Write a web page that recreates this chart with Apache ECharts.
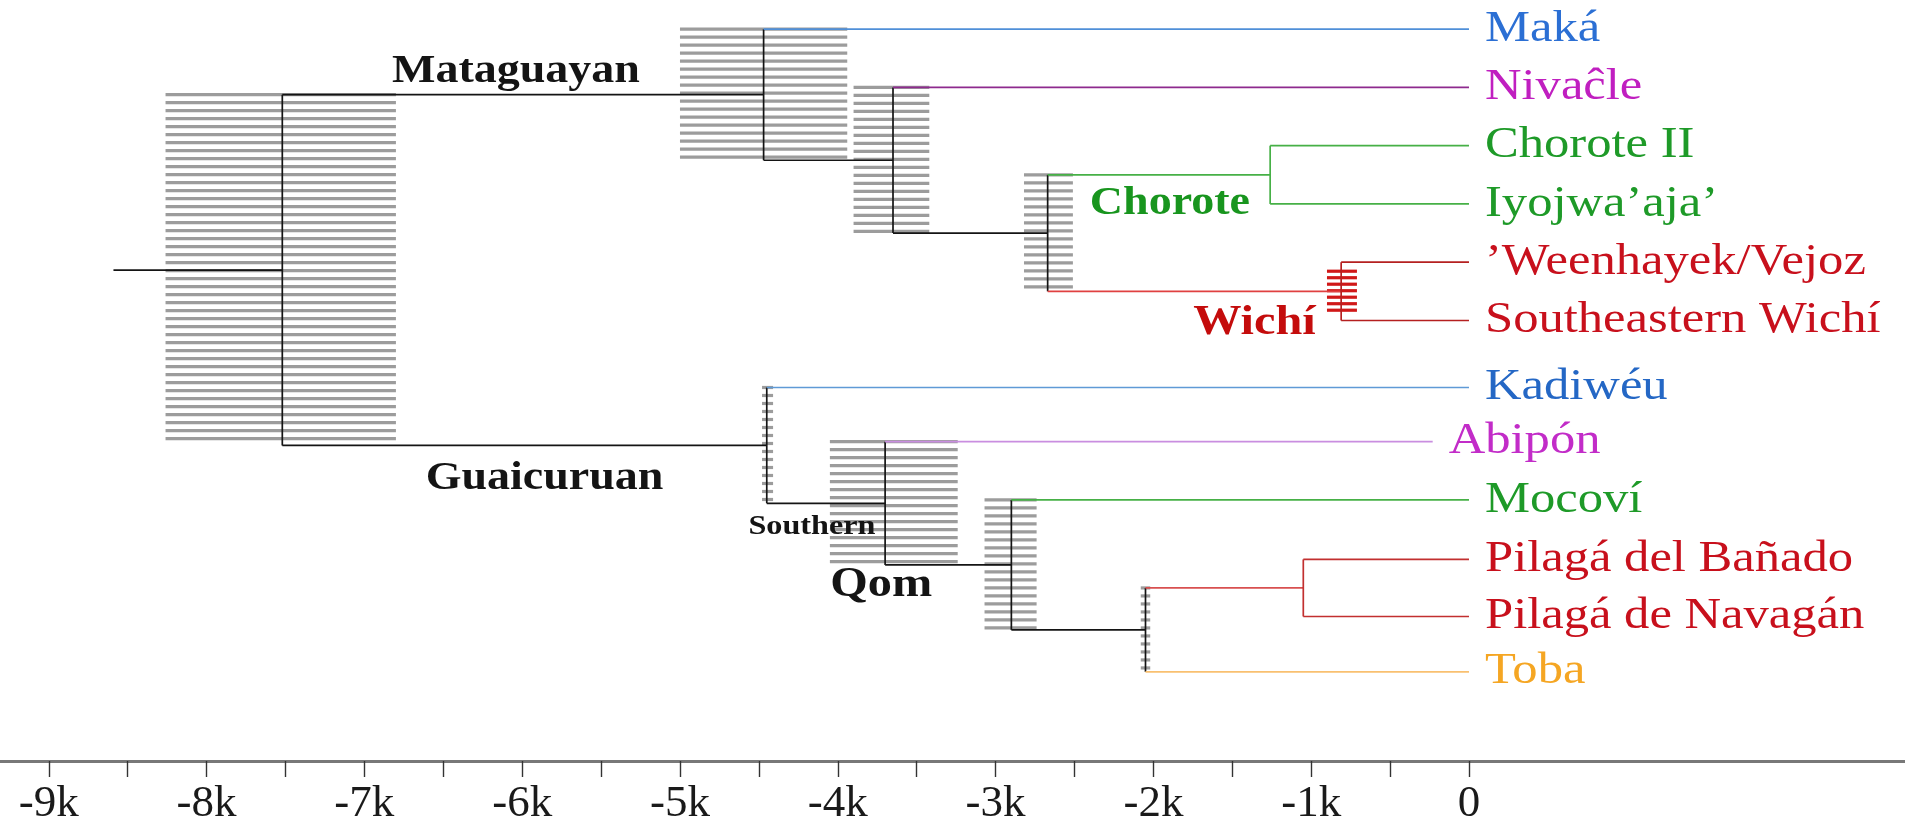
<!DOCTYPE html>
<html>
<head>
<meta charset="utf-8">
<title>Mataguayan and Guaicuruan time tree</title>
<script src="https://cdn.jsdelivr.net/npm/echarts@6/dist/echarts.min.js"></script>
<style>
  html, body { margin: 0; padding: 0; background: #ffffff; }
  #chart { width: 1905px; height: 826px; }
</style>
</head>
<body>
<div id="chart"></div>
<script>
// ---- Data: leaves (top to bottom), ages in thousands of years before present ----
const leafNames = ['Maká', 'Nivaĉle', 'Chorote II', 'Iyojwa’aja’', '’Weenhayek/Vejoz', 'Southeastern Wichí',
                   'Kadiwéu', 'Abipón', 'Mocoví', 'Pilagá del Bañado', 'Pilagá de Navagán', 'Toba'];
const leafRows = [0, 1, 2, 3, 4, 5, 6.15, 7.08, 8.08, 9.1, 10.08, 11.03];
const leafAges = [0, 0, 0, 0, 0, 0, 0, -0.23, 0, 0, 0, 0];

// ---- Data: internal nodes ----
const nodeIds = ['root', 'mataguayan', 'nivacleClade', 'choroteWichi', 'chorote', 'wichi',
                 'guaicuruan', 'southern', 'qom', 'tobaPilaga', 'pilaga'];
const nodeAges = [-7.52, -4.47, -3.65, -2.67, -1.26, -0.81, -4.45, -3.70, -2.90, -2.05, -1.05];
const nodeChildren = [
  ['mataguayan', 'guaicuruan'],
  ['L0', 'nivacleClade'],
  ['L1', 'choroteWichi'],
  ['chorote', 'wichi'],
  ['L2', 'L3'],
  ['L4', 'L5'],
  ['L6', 'southern'],
  ['L7', 'qom'],
  ['L8', 'tobaPilaga'],
  ['pilaga', 'L11'],
  ['L9', 'L10']
];
// 95% HPD interval of each node age (null = not drawn)
const hpdLow  = [-8.26, -5.00, -3.90, -2.82, null, -0.90, -4.48, -4.05, -3.07, -2.08, null];
const hpdHigh = [-6.80, -3.94, -3.42, -2.51, null, -0.71, -4.41, -3.24, -2.74, -2.02, null];
const rootStemStart = -8.59;

// ---- Data: axis ----
const tickValues = [-9, -8.5, -8, -7.5, -7, -6.5, -6, -5.5, -5, -4.5, -4, -3.5, -3, -2.5, -2, -1.5, -1, -0.5, 0];
const tickLabelValues = [-9, -8, -7, -6, -5, -4, -3, -2, -1, 0];

// ---- Data: clade names and the branch each one annotates ----
const cladeNames = ['Mataguayan', 'Guaicuruan', 'Chorote', 'Wichí', 'Southern', 'Qom'];
const cladeNodes = ['mataguayan', 'guaicuruan', 'chorote', 'wichi', 'southern', 'qom'];

// ---- Styles ----
const BLACK = '#141414';
const leafTextColors = ['#2b6fd4', '#c01fc0', '#1e9a28', '#1e9a28', '#c8101c', '#c8101c',
                        '#2467c5', '#c22cc8', '#1e9a28', '#c8101c', '#c8101c', '#f5a623'];
const edgeColors = {
  mataguayan: BLACK, guaicuruan: BLACK, nivacleClade: BLACK, choroteWichi: BLACK,
  chorote: '#46b046', wichi: '#e04040', southern: BLACK, qom: BLACK, tobaPilaga: BLACK,
  pilaga: '#d85050',
  L0: '#4f8fd8', L1: '#8e2a8e', L2: '#46b046', L3: '#46b046', L4: '#b52020', L5: '#b52020',
  L6: '#5f9ad6', L7: '#c98ee0', L8: '#46b046', L9: '#c23030', L10: '#c23030', L11: '#f9c070'
};
const verticalColors = { chorote: '#46b046', wichi: '#b52020', pilaga: '#c23030' };
const hpdStyles = {
  default: { color: '#9c9c9c', gap: 8, inset: 0 },
  wichi: { color: '#d01818', gap: 6.5, inset: 9 }
};
const cladeStyles = {
  Mataguayan: { dx: -7, dy: -23, size: 40, color: BLACK },
  Guaicuruan: { dx: 20, dy: 33, size: 40, color: BLACK },
  'Chorote':  { dx: 11, dy: 29, size: 40, color: '#18951e' },
  'Wichí':    { dx: 60, dy: 32, size: 42, color: '#c40c0c' },
  Southern:   { dx: -14, dy: 23, size: 28, color: BLACK },
  Qom:        { dx: -67, dy: 20, size: 42, color: BLACK }
};
const SERIF = '"Liberation Serif", "Times New Roman", serif';
const TEXT_STRETCH = 1.15;

// ---- Tree layout: a node sits midway between its first and last child ----
const nodeIndex = {};
nodeIds.forEach((id, i) => { nodeIndex[id] = i; });
const isLeaf = id => id[0] === 'L';
const ageOf = id => isLeaf(id) ? leafAges[+id.slice(1)] : nodeAges[nodeIndex[id]];
function rowOf(id) {
  if (isLeaf(id)) return leafRows[+id.slice(1)];
  const rows = nodeChildren[nodeIndex[id]].map(rowOf);
  return (Math.min(...rows) + Math.max(...rows)) / 2;
}

// branch segments [x0, y0, x1, y1]
const segments = [];
const segmentColors = [];
segments.push([rootStemStart, rowOf('root'), ageOf('root'), rowOf('root')]);
segmentColors.push(BLACK);
nodeIds.forEach((id, i) => {
  const rows = nodeChildren[i].map(rowOf);
  segments.push([nodeAges[i], Math.min(...rows), nodeAges[i], Math.max(...rows)]);
  segmentColors.push(verticalColors[id] || BLACK);
  nodeChildren[i].forEach(ch => {
    segments.push([nodeAges[i], rowOf(ch), ageOf(ch), rowOf(ch)]);
    segmentColors.push(edgeColors[ch]);
  });
});

// HPD bars [low, high, rowTop, rowBottom]
const hpdData = [];
const hpdKeys = [];
nodeIds.forEach((id, i) => {
  if (hpdLow[i] === null) return;
  const rows = nodeChildren[i].map(rowOf);
  hpdData.push([hpdLow[i], hpdHigh[i], Math.min(...rows), Math.max(...rows)]);
  hpdKeys.push(hpdStyles[id] ? id : 'default');
});

// leaf label anchors [age, row]
const leafData = leafNames.map((n, i) => [leafAges[i], leafRows[i]]);

// clade label anchors: middle of the branch leading to the clade
const parentOf = {};
nodeIds.forEach((id, i) => nodeChildren[i].forEach(ch => { parentOf[ch] = id; }));
const cladeData = cladeNodes.map(id => [(ageOf(parentOf[id]) + ageOf(id)) / 2, rowOf(id)]);

function stretchedText(x, y, text, font, fill, align) {
  return {
    type: 'text', x: x, y: y, scaleX: TEXT_STRETCH, originX: 0, originY: 0,
    style: { x: 0, y: 0, text: text, font: font, fill: fill,
             align: align, verticalAlign: 'middle', textAlign: align, textVerticalAlign: 'middle' }
  };
}

const chart = echarts.init(document.getElementById('chart'), null, { renderer: 'canvas' });
chart.setOption({
  backgroundColor: '#ffffff',
  animation: false,
  grid: { left: 0, right: 0, top: 0, bottom: 65, containLabel: false, outerBoundsMode: 'none' },
  xAxis: {
    type: 'value', min: -9.309, max: 2.763, position: 'bottom',
    splitLine: { show: false },
    axisLine: { show: true, onZero: false, lineStyle: { color: '#787878', width: 3 } },
    axisTick: { show: true, customValues: tickValues, length: 16, lineStyle: { color: '#333333', width: 1.4 } },
    axisLabel: {
      show: true, customValues: tickLabelValues, margin: 21,
      fontFamily: SERIF, fontSize: 45, color: '#1a1a1a',
      formatter: v => (v === 0 ? '0' : v + 'k')
    }
  },
  yAxis: { type: 'value', min: -0.5, max: 12.56, inverse: true, show: false },
  series: [
    {
      // hatched 95% HPD bars behind the tree
      type: 'custom', name: 'HPD', z: 1, silent: true,
      data: hpdData, encode: { x: [0, 1], y: [2, 3] },
      renderItem: function (params, api) {
        const st = hpdStyles[hpdKeys[params.dataIndex]];
        const a = api.coord([api.value(0), api.value(2)]);
        const b = api.coord([api.value(1), api.value(3)]);
        const children = [];
        for (let y = a[1] + st.inset; y <= b[1] - st.inset + 0.5; y += st.gap) {
          children.push({ type: 'rect', shape: { x: a[0], y: y - 1.6, width: b[0] - a[0], height: 3.2 },
                          style: { fill: st.color } });
        }
        return { type: 'group', children: children };
      }
    },
    {
      type: 'custom', name: 'Branches', z: 2, silent: true,
      data: segments, encode: { x: [0, 2], y: [1, 3] },
      renderItem: function (params, api) {
        const p0 = api.coord([api.value(0), api.value(1)]);
        const p1 = api.coord([api.value(2), api.value(3)]);
        return { type: 'line', shape: { x1: p0[0], y1: p0[1], x2: p1[0], y2: p1[1] },
                 style: { stroke: segmentColors[params.dataIndex], lineWidth: 1.7 } };
      }
    },
    {
      type: 'custom', name: 'Languages', z: 3, silent: true,
      data: leafData, encode: { x: 0, y: 1 },
      renderItem: function (params, api) {
        const p = api.coord([api.value(0), api.value(1)]);
        return stretchedText(p[0] + 16, p[1], leafNames[params.dataIndex],
                             '44px ' + SERIF, leafTextColors[params.dataIndex], 'left');
      }
    },
    {
      type: 'custom', name: 'Clades', z: 3, silent: true,
      data: cladeData, encode: { x: 0, y: 1 },
      renderItem: function (params, api) {
        const name = cladeNames[params.dataIndex];
        const st = cladeStyles[name];
        const p = api.coord([api.value(0), api.value(1)]);
        return stretchedText(p[0] + st.dx, p[1] + st.dy, name,
                             'bold ' + st.size + 'px ' + SERIF, st.color, 'center');
      }
    }
  ]
});
</script>
</body>
</html>
